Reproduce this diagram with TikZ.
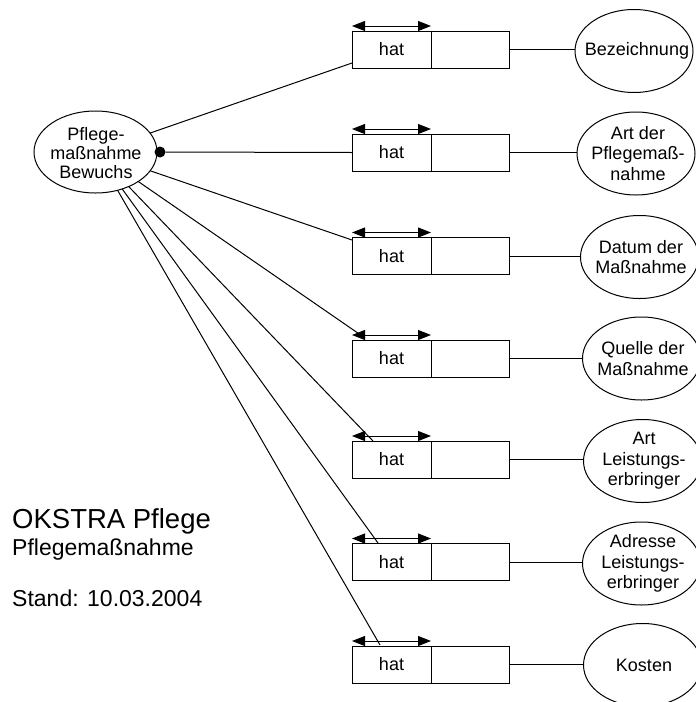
\documentclass[tikz,border=0pt]{standalone}
\usepackage{fontspec}
\setmainfont{Liberation Sans}
\usetikzlibrary{shapes.geometric,arrows.meta}
\newcommand{\lblfont}{\fontsize{18}{20.5}\selectfont}
\tikzset{
 lnk/.style={line width=1pt},
 hatbox/.style={draw, line width=1pt, minimum width=79pt, minimum height=37pt, inner sep=0pt, outer sep=0pt, font=\lblfont},
 valbox/.style={draw, line width=1pt, minimum width=78pt, minimum height=37pt, inner sep=0pt, outer sep=0pt},
 attr/.style={ellipse, draw, line width=1pt, minimum width=118pt, minimum height=83pt, inner sep=0pt, outer sep=0pt},
 txt/.style={font=\lblfont, align=center, inner sep=0pt},
 dbl/.style={line width=1pt, {Triangle[length=13pt,width=10pt]}-{Triangle[length=13pt,width=10pt]}},
 dotnode/.style={circle, fill=black, inner sep=0pt, minimum size=11pt},
}
\begin{document}
\begin{tikzpicture}[x=1pt,y=-1pt]
\useasboundingbox (0,0) rectangle (696,702);
\clip (0,0) rectangle (696,702);
% main entity
\node[ellipse, draw, line width=1pt, minimum width=123pt, minimum height=82pt, inner sep=0pt, outer sep=0pt] (L) at (95.5,152) {};
\node[txt, font=\fontsize{18}{19}\selectfont] (Lt) at (96,153) {Pflege-\\maßnahme\\Bewuchs};
\node[dotnode] (dot) at (160,152) {};
% rows
\node[hatbox] (h1) at (391.5,49.5) {hat};
\node[valbox] (v1) at (470,49.5) {};
\node[hatbox] (h2) at (391.5,152.5) {hat};
\node[valbox] (v2) at (470,152.5) {};
\node[hatbox] (h3) at (391.5,256) {hat};
\node[valbox] (v3) at (470,256) {};
\node[hatbox] (h4) at (391.5,358.5) {hat};
\node[valbox] (v4) at (470,358.5) {};
\node[hatbox] (h5) at (391.5,459.5) {hat};
\node[valbox] (v5) at (470,459.5) {};
\node[hatbox] (h6) at (391.5,562) {hat};
\node[valbox] (v6) at (470,562) {};
\node[hatbox] (h7) at (391.5,664.5) {hat};
\node[valbox] (v7) at (470,664.5) {};
% arrows over the hat boxes
\foreach \i in {1,...,7}{
  \draw[dbl] ([yshift=5pt]h\i.north west) -- ([yshift=5pt]h\i.north east);
}
% attribute ellipses
\node[attr] (e1) at (634,51) {};
\node[txt] (e1t) at (637,51) {Bezeichnung};
\node[attr] (e2) at (636,153.5) {};
\node[txt] (e2t) at (638,153.5) {Art der\\Pflegemaß-\\nahme};
\node[attr] (e3) at (639.5,257) {};
\node[txt] (e3t) at (641,257) {Datum der\\Maßnahme};
\node[attr] (e4) at (641.5,358.5) {};
\node[txt] (e4t) at (643,358.5) {Quelle der\\Maßnahme};
\node[attr] (e5) at (642.5,461) {};
\node[txt] (e5t) at (644,461) {Art\\Leistungs-\\erbringer};
\node[attr] (e6) at (641.5,563.5) {};
\node[txt] (e6t) at (643,563.5) {Adresse\\Leistungs-\\erbringer};
\node[attr] (e7) at (642.5,665) {};
\node[txt] (e7t) at (644,665) {Kosten};
% box to attribute
\foreach \i in {1,...,7}{
  \draw[lnk] (v\i.east) -- (v\i.east -| e\i.west);
}
% entity to boxes
\coordinate (t1) at (352,63);
\coordinate (t3) at (352,240);
\coordinate (t4) at (365,338);
\coordinate (t5) at (373,441);
\coordinate (t6) at (378,543);
\coordinate (t7) at (380,645);
\draw[lnk] (L) -- (t1);
\draw[lnk] (dot) -- (h2.west);
\draw[lnk] (L) -- (t3);
\draw[lnk] (L) -- (t4);
\draw[lnk] (L) -- (t5);
\draw[lnk] (L) -- (t6);
\draw[lnk] (L) -- (t7);
% title
\node[anchor=base west, inner sep=0pt, font=\fontsize{27.5}{30}\selectfont] (title) at (12,528) {OKSTRA Pflege};
\node[anchor=base west, inner sep=0pt, font=\fontsize{23}{26}\selectfont] (sub) at (12,555) {Pflegemaßnahme};
\node[anchor=base west, inner sep=0pt, font=\fontsize{23}{26}\selectfont] (stand) at (12,606) {Stand: 10.03.2004};
\end{tikzpicture}
\end{document}
